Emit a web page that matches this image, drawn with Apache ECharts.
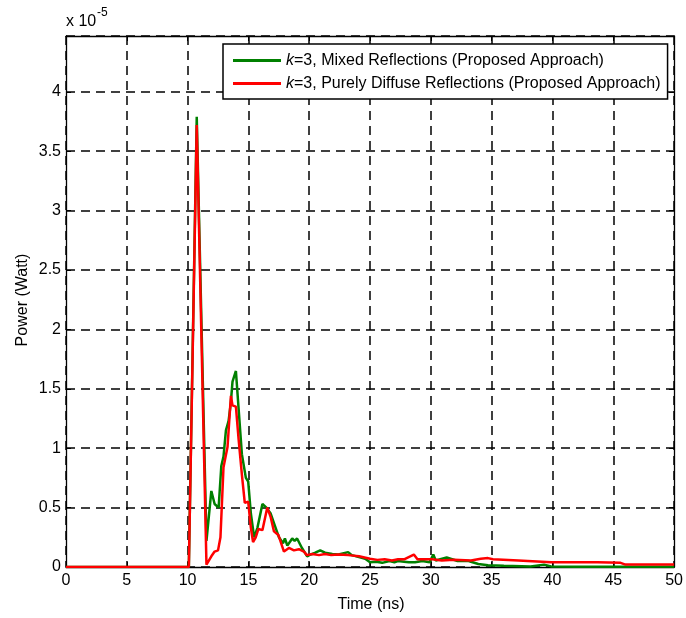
<!DOCTYPE html>
<html>
<head>
<meta charset="utf-8">
<script src="https://cdn.jsdelivr.net/npm/echarts@6/dist/echarts.min.js"></script>
<style>
  html, body { margin: 0; padding: 0; background: #fff; }
  #chart { width: 686px; height: 618px; }
</style>
</head>
<body>
<div id="chart"></div>
<script>
// Time axis (ns) and power values in units of 1e-5 W
const xTicks = [0, 5, 10, 15, 20, 25, 30, 35, 40, 45, 50];
const yTicks = [0, 0.5, 1, 1.5, 2, 2.5, 3, 3.5, 4];

const seriesNames = [
  'k=3, Mixed Reflections (Proposed Approach)',
  'k=3, Purely Diffuse Reflections (Proposed Approach)'
];

const mixedT = [0, 10.1, 10.75, 11.55, 11.95, 12.22, 12.55, 12.77, 12.95, 13.15, 13.37, 13.55, 13.69, 13.97, 14.18, 14.46, 14.79, 14.98, 15.2, 15.47, 15.74, 16.15, 16.48, 16.83, 17.1, 17.51, 17.84, 18.0, 18.2, 18.6, 18.8, 19.0, 19.4, 19.83, 20.0, 20.5, 20.9, 21.3, 21.9, 22.4, 23.2, 23.5, 24.6, 25.0, 25.5, 26.0, 26.6, 27.0, 27.3, 27.8, 28.2, 28.7, 29.3, 29.9, 30.2, 30.4, 31.3, 32.2, 33.1, 33.9, 34.7, 36.0, 38.2, 39.3, 39.9, 42.0, 50.0];
const mixedV = [0, 0, 3.79, 0.22, 0.64, 0.53, 0.50, 0.85, 0.93, 1.15, 1.23, 1.38, 1.56, 1.65, 1.35, 0.95, 0.75, 0.72, 0.45, 0.25, 0.33, 0.53, 0.50, 0.45, 0.37, 0.25, 0.20, 0.24, 0.18, 0.24, 0.22, 0.24, 0.16, 0.09, 0.10, 0.12, 0.14, 0.12, 0.11, 0.105, 0.125, 0.10, 0.07, 0.04, 0.045, 0.035, 0.05, 0.04, 0.05, 0.045, 0.04, 0.04, 0.05, 0.04, 0.105, 0.055, 0.08, 0.05, 0.05, 0.025, 0.015, 0.01, 0.005, 0.02, 0.005, 0.003, 0.003];

const diffuseT = [0, 10.1, 10.75, 11.55, 11.95, 12.22, 12.5, 12.7, 12.95, 13.28, 13.56, 13.69, 13.97, 14.18, 14.46, 14.7, 14.98, 15.2, 15.38, 15.6, 15.82, 16.15, 16.55, 16.83, 17.1, 17.46, 17.92, 18.33, 18.74, 19.15, 19.56, 19.8, 20.25, 20.8, 21.3, 21.8, 22.4, 23.2, 24.1, 25.0, 25.6, 26.2, 26.8, 27.3, 27.8, 28.6, 28.9, 30.1, 30.9, 31.9, 33.3, 34.1, 34.7, 35.1, 37.2, 39.9, 43.7, 45.6, 46.0, 50.0];
const diffuseV = [0, 0, 3.72, 0.02, 0.09, 0.13, 0.14, 0.25, 0.84, 1.01, 1.44, 1.36, 1.35, 1.09, 0.78, 0.54, 0.55, 0.33, 0.21, 0.25, 0.32, 0.31, 0.50, 0.42, 0.30, 0.27, 0.13, 0.16, 0.14, 0.15, 0.13, 0.10, 0.11, 0.10, 0.11, 0.10, 0.105, 0.10, 0.09, 0.07, 0.06, 0.065, 0.055, 0.065, 0.065, 0.105, 0.065, 0.065, 0.055, 0.06, 0.055, 0.07, 0.075, 0.065, 0.055, 0.04, 0.04, 0.035, 0.02, 0.02];

const pairs = (t, v) => t.map((x, i) => [x, v[i]]);

const FONT = 'Liberation Sans, Arial, sans-serif';
const FS = 16;
const gridDash = { color: '#000', width: 1.5, type: [9, 6] };

const chart = echarts.init(document.getElementById('chart'), null, { renderer: 'canvas' });

const baseX = {
  type: 'value', min: xTicks[0], max: xTicks[xTicks.length - 1], interval: 5,
  axisLine: { show: true, onZero: false, lineStyle: { color: '#000', width: 1.3 } },
  axisTick: { show: true, inside: true, length: 5, lineStyle: { color: '#000' } }
};
const baseY = {
  type: 'value', min: 0, max: 4.47, interval: 0.5,
  axisLine: { show: true, onZero: false, lineStyle: { color: '#000', width: 1.3 } },
  axisTick: { show: true, inside: true, length: 5, lineStyle: { color: '#000' } }
};

chart.setOption({
  animation: false,
  backgroundColor: '#fff',
  grid: { left: 66, right: 9, top: 36, bottom: 51, containLabel: false },
  xAxis: [
    Object.assign({}, baseX, {
      position: 'bottom',
      axisLabel: { show: true, margin: 6, color: '#000', fontSize: FS, fontFamily: FONT },
      splitLine: { show: true, lineStyle: gridDash }
    }),
    Object.assign({}, baseX, {
      position: 'top',
      axisLabel: { show: false },
      splitLine: { show: false }
    })
  ],
  yAxis: [
    Object.assign({}, baseY, {
      position: 'left',
      axisLabel: { show: true, margin: 5, color: '#000', fontSize: FS, fontFamily: FONT, showMaxLabel: false },
      splitLine: { show: true, lineStyle: gridDash }
    }),
    Object.assign({}, baseY, {
      position: 'right',
      axisLabel: { show: false },
      splitLine: { show: false }
    })
  ],
  legend: {
    orient: 'vertical',
    left: 223, top: 44,
    padding: [7, 7, 6, 10],
    itemGap: 4,
    itemWidth: 48, itemHeight: 3,
    icon: 'rect',
    backgroundColor: '#fff',
    borderColor: '#000', borderWidth: 1.5,
    data: seriesNames,
    formatter: (name) => '{i|k}{n|' + name.slice(1) + '}',
    textStyle: {
      color: '#000', fontSize: FS, fontFamily: FONT, lineHeight: 19,
      rich: {
        i: { fontStyle: 'italic', fontSize: FS, fontFamily: FONT, color: '#000', lineHeight: 19 },
        n: { fontSize: FS, fontFamily: FONT, color: '#000', lineHeight: 19 }
      }
    }
  },
  graphic: [
    { type: 'text', left: 66, top: 14, style: { text: 'x 10', fontSize: FS, fontFamily: FONT, fill: '#000' } },
    { type: 'text', left: 97, top: 7, style: { text: '-5', fontSize: 12, fontFamily: FONT, fill: '#000' } },
    { type: 'text', x: 371, y: 605, style: { text: 'Time (ns)', fontSize: FS, fontFamily: FONT, fill: '#000', align: 'center', verticalAlign: 'middle' } },
    { type: 'text', x: 23, y: 300, rotation: Math.PI / 2, style: { text: 'Power (Watt)', fontSize: FS, fontFamily: FONT, fill: '#000', align: 'center', verticalAlign: 'middle' } }
  ],
  series: [
    {
      name: seriesNames[0], type: 'line', xAxisIndex: 0, yAxisIndex: 0,
      data: pairs(mixedT, mixedV), showSymbol: false, symbol: 'none',
      lineStyle: { color: '#008000', width: 2.5 }, itemStyle: { color: '#008000' }, z: 3
    },
    {
      name: seriesNames[1], type: 'line', xAxisIndex: 0, yAxisIndex: 0,
      data: pairs(diffuseT, diffuseV), showSymbol: false, symbol: 'none',
      lineStyle: { color: '#ff0000', width: 2.5 }, itemStyle: { color: '#ff0000' }, z: 4
    }
  ]
});
</script>
</body>
</html>
